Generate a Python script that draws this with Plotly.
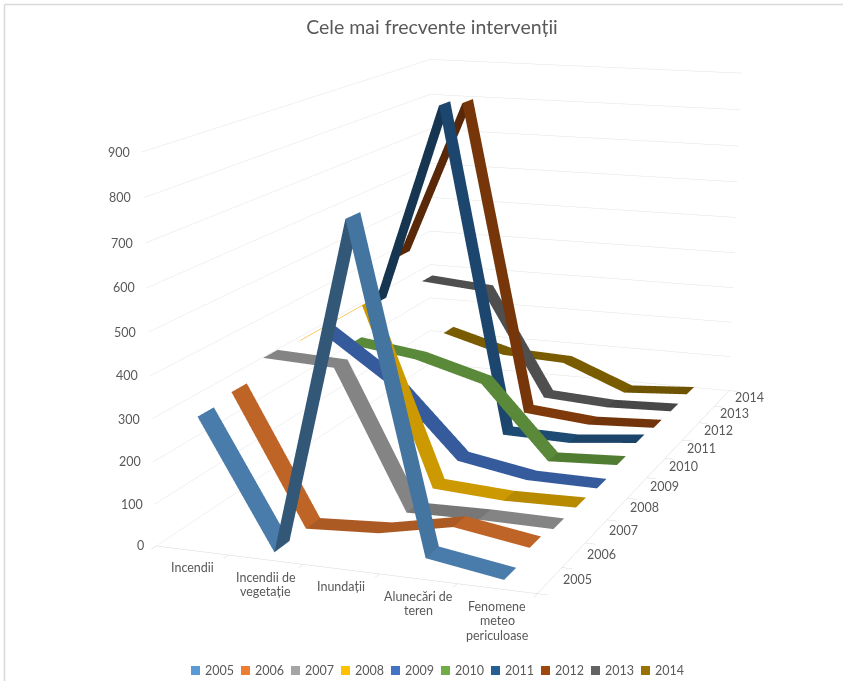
import plotly.graph_objects as go

CATEGORIES = ["Incendii", "Incendii de<br>vegetație", "Inundații", "Alunecări de<br>teren",
              "Fenomene<br>meteo<br>periculoase"]
YEARS = [2005, 2006, 2007, 2008, 2009, 2010, 2011, 2012, 2013, 2014]
Z_TICKS = [0, 100, 200, 300, 400, 500, 600, 700, 800, 900]

V2005 = [302, 2, 775, 32, 4]
V2006 = [314, 2, 12, 48, 20]
V2007 = [353, 345, 7, 10, 8]
V2008 = [345, 457, 14, 3, 6]
V2009 = [333, 213, 34, 3, 1]
V2010 = [262, 238, 189, 1, 10]
V2011 = [331, 868, 5, 1, 19]
V2012 = [425, 851, 19, 3, 12]
V2013 = [320, 305, 16, 5, 11]
V2014 = [130, 81, 73, 2, 14]
SERIES = [V2005, V2006, V2007, V2008, V2009, V2010, V2011, V2012, V2013, V2014]

COLORS = ["#5B9BD5", "#ED7D31", "#A5A5A5", "#FFC000", "#4472C4",
          "#70AD47", "#255E91", "#9E480E", "#636363", "#997300"]

FONT = "Lato, Carlito, Calibri, sans-serif"
TEXT = "#595959"
GRID = "#E4E4E4"
BORDER = "#D9D9D9"
RIBBON_DEPTH = 0.47

# The long lens needs a tall scene; the page shows the band starting OFFSET px down.
FIG_W, FIG_H, OFFSET = 860, 1883, 479


def shade(hex_color, k):
    r, g, b = (int(hex_color[i:i + 2], 16) for i in (1, 3, 5))
    return f"rgb({round(r * k)},{round(g * k)},{round(b * k)})"


def slope_shade(delta):
    if delta > 100:
        return 0.56
    if delta > 0:
        return 0.72
    if delta < -500:
        return 0.75
    return 0.80


def px(x):
    return x / FIG_W


def py(y):
    return 1 - (y + OFFSET) / FIG_H


fig = go.Figure()

for s, values in enumerate(SERIES):
    xs, ys, zs, ii, jj, kk, face = [], [], [], [], [], [], []
    for c, v in enumerate(values):
        xs += [c + 0.5, c + 0.5]
        ys += [s + 0.5 - RIBBON_DEPTH / 2, s + 0.5 + RIBBON_DEPTH / 2]
        zs += [v, v]
    for c in range(len(values) - 1):
        a = 2 * c
        ii += [a, a + 1]
        jj += [a + 1, a + 3]
        kk += [a + 2, a + 2]
        col = shade(COLORS[s], slope_shade(values[c + 1] - values[c]))
        face += [col, col]
    fig.add_trace(go.Mesh3d(
        x=xs, y=ys, z=zs, i=ii, j=jj, k=kk, facecolor=face, flatshading=True,
        name=str(YEARS[s]), hoverinfo="skip", showscale=False,
        lighting=dict(ambient=1, diffuse=0, specular=0, roughness=1, fresnel=0),
    ))

# The 2008 ribbon's first stretch is seen exactly edge-on, so it reads as a hairline.
EDGE_ON = YEARS.index(2008)
fig.add_trace(go.Scatter3d(
    x=[0.5, 1.5], y=[EDGE_ON + 0.5, EDGE_ON + 0.5], z=SERIES[EDGE_ON][:2], mode="lines",
    line=dict(color="#FFC94D", width=1.5), hoverinfo="skip", showlegend=False,
))

label_font = dict(family=FONT, size=12.5, color=TEXT)
LINE_STEP = 14.5
scene_notes = []
for z in Z_TICKS:
    scene_notes.append(dict(x=0, y=0, z=z, text=str(z), showarrow=False, xanchor="right",
                            xshift=-10, font=label_font))
for c, name in enumerate(CATEGORIES):
    for n, line in enumerate(name.split("<br>")):
        scene_notes.append(dict(x=c + 0.5, y=0, z=0, text=line, showarrow=False, xanchor="center",
                                yanchor="top", yshift=-8 - LINE_STEP * n, font=label_font))
for s, year in enumerate(YEARS):
    scene_notes.append(dict(x=5, y=s + 0.5, z=0, text=str(year), showarrow=False, xanchor="left",
                            xshift=11, yshift=1, font=label_font))

hidden_axis = dict(title="", showbackground=False, showspikes=False, zeroline=False,
                   showticklabels=False)

# Legend row, laid out by hand so swatches sit tight against their labels.
shapes, notes = [], []
for s, year in enumerate(YEARS):
    x0 = 191 + 50 * s
    shapes.append(dict(type="rect", xref="paper", yref="paper", x0=px(x0), x1=px(x0 + 9),
                       y0=py(675), y1=py(666), fillcolor=COLORS[s], line_width=0))
    notes.append(dict(xref="paper", yref="paper", x=px(x0 + 12), y=py(670), text=str(year),
                      showarrow=False, xanchor="left", yanchor="middle", font=label_font))

# Chart frame along the top and left edges.
for x0, y0, x1, y1 in [(4.5, 4.5, FIG_W, 4.5), (4.5, 4.5, 4.5, 681)]:
    shapes.append(dict(type="line", xref="paper", yref="paper", x0=px(x0), x1=px(x1),
                       y0=py(y0), y1=py(y1), line=dict(color=BORDER, width=1.5)))

fig.update_layout(
    width=FIG_W, height=FIG_H, autosize=False, margin=dict(l=0, r=0, t=0, b=0, pad=0),
    paper_bgcolor="white", showlegend=False,
    title=dict(text="Cele mai frecvente intervenții", x=px(432), y=py(27), xanchor="center",
               yanchor="middle", font=dict(family=FONT, size=19.5, color=TEXT)),
    shapes=shapes, annotations=notes,
    scene=dict(
        domain=dict(x=[0, 1], y=[0, 1]),
        aspectmode="manual", aspectratio=dict(x=1.0113, y=1.9967, z=1),
        camera=dict(eye=dict(x=2.0346, y=-5.8651, z=1.3623),
                    center=dict(x=-0.0479, y=-0.2389, z=-0.4462),
                    up=dict(x=0, y=0, z=1), projection=dict(type="perspective")),
        xaxis=dict(hidden_axis, range=[0, 5], tickvals=[0, 1, 2, 3, 4, 5], ticks="outside",
                   ticklen=8, tickcolor="#D0D0D0", showgrid=False, showline=True,
                   linecolor="#D9D9D9", linewidth=1),
        yaxis=dict(hidden_axis, range=[0, 10], tickvals=list(range(11)), ticks="outside",
                   ticklen=8, tickcolor="#D0D0D0", showgrid=False, showline=True,
                   linecolor="#D9D9D9", linewidth=1),
        zaxis=dict(hidden_axis, range=[0, 900], tickvals=Z_TICKS, ticks="", showgrid=True,
                   gridcolor=GRID, gridwidth=1, showline=False),
        annotations=scene_notes,
    ),
)

fig.write_html(
    "out.html",
    post_script=(
        "document.documentElement.style.overflow='hidden';"
        "document.body.style.overflow='hidden';document.body.style.margin='0';"
        "var gd=document.getElementsByClassName('plotly-graph-div')[0];"
        f"gd.style.position='absolute';gd.style.left='0';gd.style.top='-{OFFSET}px';"
    ),
)
